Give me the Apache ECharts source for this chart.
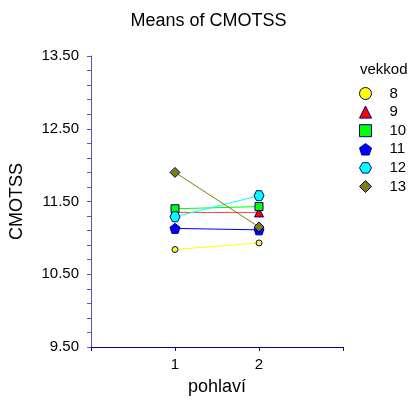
<!DOCTYPE html>
<html><head><meta charset="utf-8">
<script src="https://cdn.jsdelivr.net/npm/echarts@6/dist/echarts.min.js"></script>
<style>html,body{margin:0;padding:0;background:#fff}#c{width:417px;height:401px}</style>
</head><body><div id="c"></div>
<script>
const groups = ['8', '9', '10', '11', '12', '13'];
const xValues = [1, 2];
const v8 = [10.84, 10.93];
const v9 = [11.35, 11.35];
const v10 = [11.40, 11.43];
const v11 = [11.13, 11.11];
const v12 = [11.29, 11.58];
const v13 = [11.90, 11.15];
const yLabels = ['9.50', '10.50', '11.50', '12.50', '13.50'];
const xLabels = ['1', '2'];

const seriesValues = [v8, v9, v10, v11, v12, v13];
const colors = ['#ffff00', '#ff0000', '#00ff00', '#0000ff', '#00ffff', '#808000'];
const lineColors = ['#ffff00', '#ff4040', '#00ff00', '#0000ff', '#00ffff', '#808000'];
const pentagon = 'path://M0,-10 L9.51,-3.09 L5.88,8.09 L-5.88,8.09 L-9.51,-3.09 Z';
const hexagon = 'path://M-5,-8.66 L5,-8.66 L10,0 L5,8.66 L-5,8.66 L-10,0 Z';
const symbols = ['circle', 'triangle', 'rect', pentagon, hexagon, 'diamond'];
const sizes = [6, 9, 8, 10, 10, 10];
const FONT = 'Liberation Sans, Arial, sans-serif';

const chart = echarts.init(document.getElementById('c'));
chart.setOption({
  animation: false,
  backgroundColor: '#fff',
  title: [
    { text: 'Means of CMOTSS', left: 'center', top: 7,
      textStyle: { fontFamily: FONT, fontSize: 18, fontWeight: 'normal', color: '#000' } },
    { text: 'vekkod', left: 355, top: 57,
      textStyle: { fontFamily: FONT, fontSize: 15, fontWeight: 'normal', color: '#000' } }
  ],
  legend: {
    orient: 'vertical', left: 354, top: 81,
    itemWidth: 12, itemHeight: 12, itemGap: 3.6,
    textStyle: { fontFamily: FONT, fontSize: 15, color: '#000', padding: [0, 0, 0, 13] },
    data: groups.map((g, i) => ({ name: g, icon: symbols[i],
      itemStyle: { color: colors[i], borderColor: '#000080', borderWidth: 1 } }))
  },
  grid: { left: 91, right: 74, top: 56, bottom: 54 },
  xAxis: {
    type: 'value', min: 0, max: 3, interval: 1,
    name: 'pohlaví', nameLocation: 'middle', nameGap: 31,
    nameTextStyle: { fontFamily: FONT, fontSize: 18, color: '#000' },
    axisLine: { show: true, lineStyle: { color: '#000080', width: 1 } },
    axisTick: { show: true, length: 4, lineStyle: { color: '#000080' } },
    axisLabel: { fontFamily: FONT, fontSize: 15, color: '#000', margin: 10,
      formatter: v => xLabels.includes(String(v)) ? String(v) : '' },
    splitLine: { show: false }
  },
  yAxis: [
    {
      type: 'value', min: 9.5, max: 13.5, interval: 0.5,
      name: 'CMOTSS', nameLocation: 'middle', nameGap: 65, nameRotate: 90,
      nameTextStyle: { fontFamily: FONT, fontSize: 18, color: '#000' },
      axisLine: { show: true, lineStyle: { color: '#5555bb', width: 1 } },
      axisTick: { show: false },
      axisLabel: { fontFamily: FONT, fontSize: 15, color: '#000', margin: 12,
        formatter: v => { const s = v.toFixed(2); return yLabels.includes(s) ? s : ''; } },
      splitLine: { show: false }
    },
    {
      type: 'value', min: 0, max: 20, interval: 1, position: 'left',
      axisLine: { show: false },
      axisTick: { show: true, length: 4, lineStyle: { color: '#5555bb' } },
      axisLabel: { show: false },
      splitLine: { show: false }
    }
  ],
  series: groups.map((g, i) => ({
    name: g, type: 'line', yAxisIndex: 0,
    data: xValues.map((x, j) => [x, seriesValues[i][j]]),
    symbol: symbols[i], symbolSize: sizes[i],
    lineStyle: { color: lineColors[i], width: 1 },
    itemStyle: { color: colors[i], borderColor: '#000080', borderWidth: 1 },
    z: 2 + i
  }))
});
</script></body></html>
